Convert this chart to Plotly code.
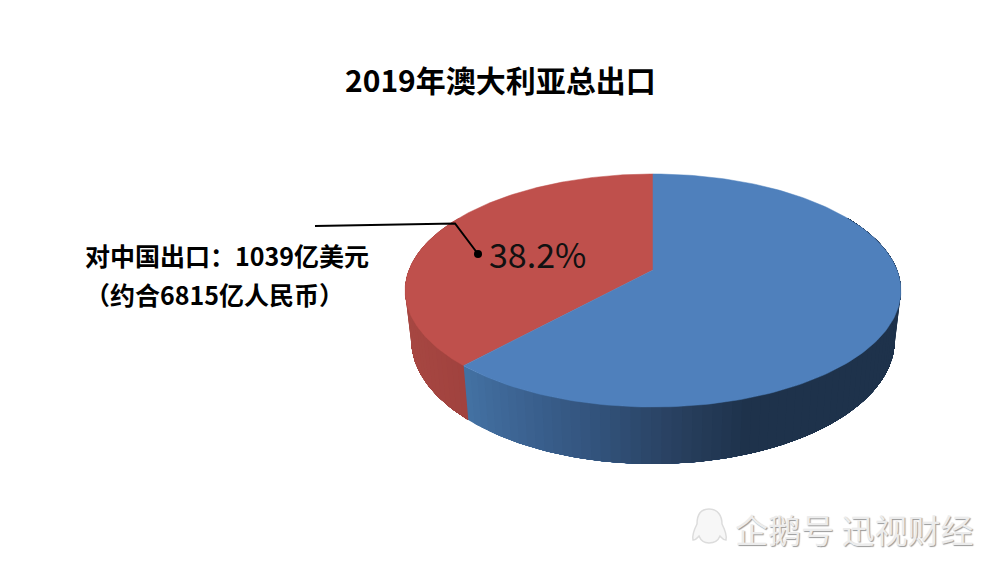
import numpy as np
import plotly.graph_objects as go

TITLE = "2019年澳大利亚总出口"
CATEGORIES = ["对中国出口", "其他"]
SHARES = [38.2, 61.8]
LABEL_LINES = ["对中国出口：1039亿美元", "（约合6815亿人民币）"]
SHARE_LABEL = "38.2%"
WATERMARK = "企鹅号 迅视财经"

TOP_COLORS = ["#BF504C", "#4F80BC"]
FONT = "Noto Sans CJK SC"
CX = 653
TOP = dict(X=244, a=-65.4, b=270, c=0.176)
BOT = dict(X=238, a=-64.3, b=318, c=0.176)


def project(t, p):
    """Perspective projection of a point on the pie rim; t = angle counter-clockwise from 12 o'clock."""
    u, v = -np.sin(t), np.cos(t)
    d = 1 + p["c"] * v
    return CX + p["X"] * u / d, (p["a"] * v + p["b"]) / d


def side_color(x, idx):
    if idx == 0:
        xs, r, g, b = [405, 470], [168, 160], [72, 66], [67, 62]
    else:
        xs = [465, 520, 600, 680, 745, 900]
        r = [68, 60, 50, 40, 30, 30]
        g = [114, 99, 82, 63, 50, 50]
        b = [163, 146, 122, 94, 75, 75]
    return "rgb(%d,%d,%d)" % (np.interp(x, xs, r), np.interp(x, xs, g), np.interp(x, xs, b))


fig = go.Figure()
fracs = np.array(SHARES) / sum(SHARES)
edges = np.concatenate([[0], np.cumsum(fracs)]) * 2 * np.pi

# side wall: each strip runs to the end of its slice and the next one paints over it,
# so the shading varies along the rim without seams
for i, cat in enumerate(CATEGORIES):
    lo = max(edges[i], np.radians(60))
    hi = min(edges[i + 1], np.radians(300))
    n = max(int(np.degrees(hi - lo) / 2), 2)
    ts = np.linspace(lo, hi, n + 1)
    for t0 in ts[:-1]:
        tt = np.linspace(t0, hi, max(int(np.degrees(hi - t0)), 2))
        x0, y0 = project(tt, TOP)
        x1, y1 = project(tt[::-1], BOT)
        col = side_color((x0[0] + x1[-1]) / 2 + 2, i)
        fig.add_trace(go.Scatter(x=np.r_[x0, x1], y=np.r_[y0, y1], mode="lines", fill="toself",
                                 fillcolor=col, line=dict(width=0),
                                 hoverinfo="skip", showlegend=False))

# top face
for i, cat in enumerate(CATEGORIES):
    tt = np.linspace(edges[i], edges[i + 1], 200)
    x, y = project(tt, TOP)
    cy = TOP["b"]
    fig.add_trace(go.Scatter(x=np.r_[CX, x, CX], y=np.r_[cy, y, cy], mode="lines", fill="toself",
                             fillcolor=TOP_COLORS[i], line=dict(color=TOP_COLORS[i], width=0.5),
                             name=cat, hoverinfo="skip", showlegend=False))

# leader line
fig.add_trace(go.Scatter(x=[315, 455, 478], y=[226, 223.5, 254], mode="lines",
                         line=dict(color="#000000", width=2), hoverinfo="skip", showlegend=False))
fig.add_trace(go.Scatter(x=[478], y=[254], mode="markers", marker=dict(color="#000000", size=8),
                         hoverinfo="skip", showlegend=False))


def note(text, x, y, size, color="#000000", anchor="left", **font):
    fig.add_annotation(x=x, y=y, text=text, showarrow=False, xanchor=anchor, yanchor="middle",
                       xref="x", yref="y", font=dict(family=FONT, size=size, color=color, **font))


note(TITLE, 500, 79, 30, anchor="center", weight="bold")
note(LABEL_LINES[0], 83, 255, 25, weight="bold")
note(LABEL_LINES[1], 83, 294, 25, weight="bold")
note(SHARE_LABEL, 487, 253, 34, color="#111111")
note(WATERMARK, 733, 529, 33, color="#ececec", shadow="1px 1px 1px #9a9a9a")

# penguin outline of the watermark
fig.add_shape(type="path", xref="x", yref="y", line=dict(color="#dcdcdc", width=1.5),
              fillcolor="#f7f7f7", layer="above",
              path="M 709 509 C 700 509 697 516 697 524 C 694 530 692 536 693 540 "
                   "C 696 540 698 537 699 536 C 701 541 705 543 709 543 C 714 543 718 541 720 536 "
                   "C 721 537 723 540 726 540 C 727 536 725 530 722 524 C 722 516 718 509 709 509 Z")

fig.update_layout(width=1000, height=563, margin=dict(l=0, r=0, t=0, b=0),
                  paper_bgcolor="#ffffff", plot_bgcolor="#ffffff",
                  xaxis=dict(range=[0, 1000], visible=False, fixedrange=True),
                  yaxis=dict(range=[563, 0], visible=False, fixedrange=True))
fig.write_html("out.html", config={"displayModeBar": False},
               post_script="document.body.style.margin='0';")
